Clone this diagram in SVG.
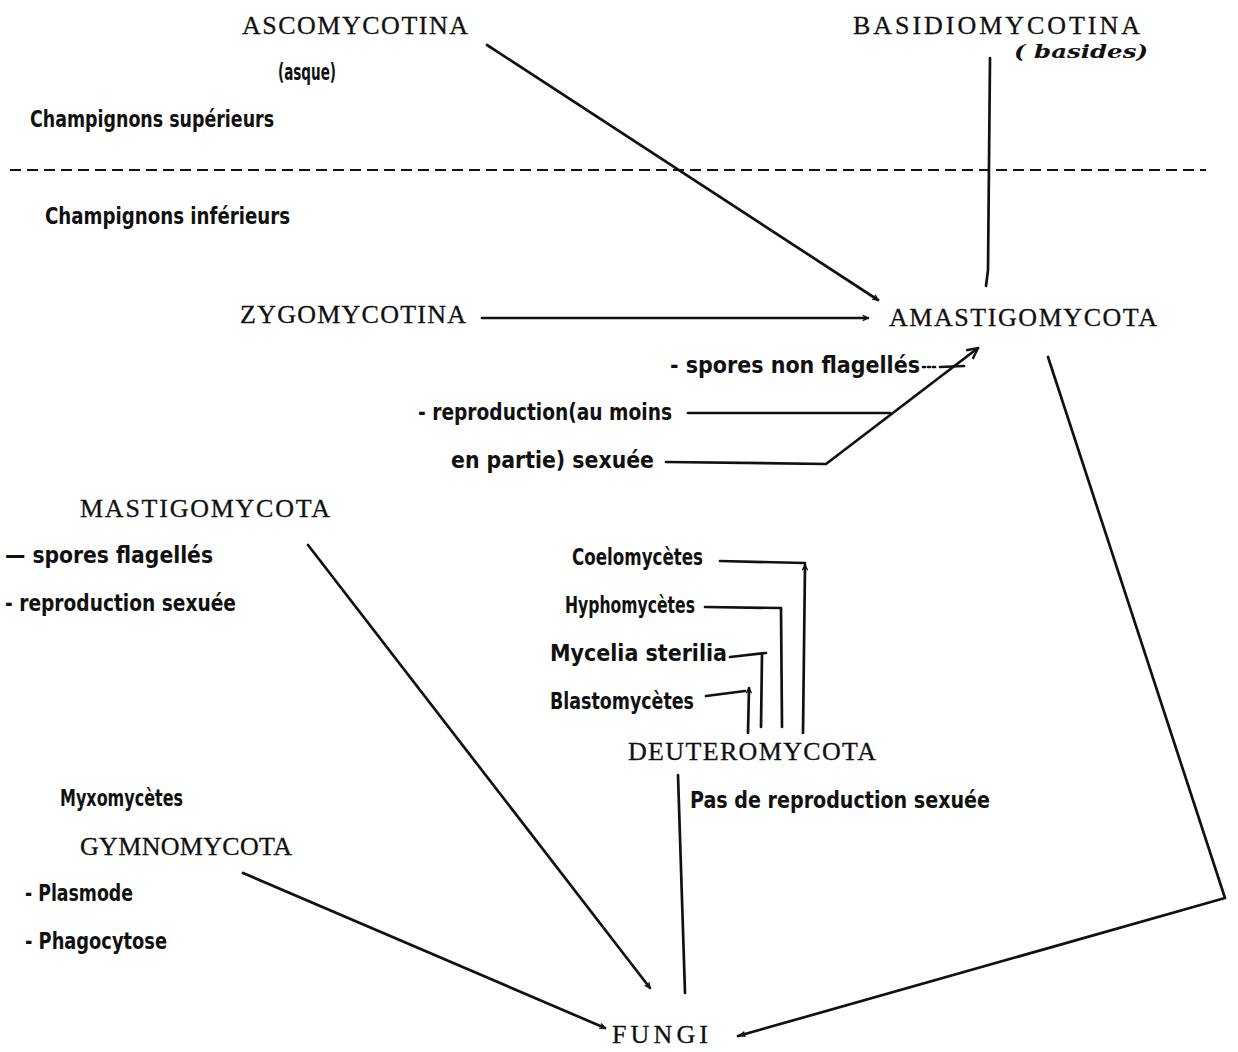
<svg xmlns="http://www.w3.org/2000/svg" width="1238" height="1052" viewBox="0 0 1238 1052">
<defs>
<style>
.cap{font-family:"Liberation Serif","DejaVu Serif",serif;font-size:26px;fill:#111;stroke:#111;stroke-width:0.3}
.nar{font-family:"Liberation Sans Narrow","DejaVu Sans Condensed","DejaVu Sans",sans-serif;font-size:23px;fill:#111;font-weight:bold}
.hand{font-family:"DejaVu Serif","Liberation Serif",serif;font-style:italic;font-weight:bold;font-size:19px;fill:#111}
.ln{stroke:#111;stroke-width:2.7;fill:none;stroke-linecap:round;stroke-linejoin:round}
.dash{stroke:#111;stroke-width:2;stroke-dasharray:11 6;fill:none}
</style>
<marker id="open" viewBox="0 0 12 12" refX="11" refY="6" markerWidth="13" markerHeight="13" markerUnits="userSpaceOnUse" orient="auto">
<path d="M1,1 L11,6 L1,11" fill="none" stroke="#111" stroke-width="2.2"/>
</marker>
<marker id="tip" viewBox="0 0 10 10" refX="9" refY="5" markerWidth="12" markerHeight="8" markerUnits="userSpaceOnUse" orient="auto">
<path d="M0,1 L10,5 L0,9 Z" fill="#111"/>
</marker>
<marker id="small" viewBox="0 0 8 8" refX="7" refY="4" markerWidth="7" markerHeight="7" markerUnits="userSpaceOnUse" orient="auto">
<path d="M1,1 L7,4 L1,7" fill="none" stroke="#111" stroke-width="1.6"/>
</marker>
</defs>
<rect width="1238" height="1052" fill="#fff"/>

<line class="dash" x1="10" y1="170" x2="1206" y2="170"/>
<text class="nar" x="30" y="127" textLength="244" lengthAdjust="spacingAndGlyphs">Champignons supérieurs</text>
<text class="nar" x="45" y="224" textLength="245" lengthAdjust="spacingAndGlyphs">Champignons inférieurs</text>

<g id="connectors">
<line class="ln" x1="487" y1="45" x2="878" y2="300" marker-end="url(#small)"/>
<polyline class="ln" points="990,58 988,270 986,286"/>
<line class="ln" x1="482" y1="318" x2="868" y2="318" marker-end="url(#small)"/>
<line class="ln" x1="923" y1="367" x2="938" y2="367" stroke-dasharray="2 3"/>
<line class="ln" x1="940" y1="367" x2="964" y2="366"/>
<line class="ln" x1="688" y1="413" x2="890" y2="413"/>
<polyline class="ln" points="666,462 826,464 978,348" marker-end="url(#open)"/>
<polyline class="ln" points="1048,357 1225,898 738,1036" marker-end="url(#tip)"/>
<line class="ln" x1="308" y1="545" x2="650" y2="988" marker-end="url(#small)"/>
<line class="ln" x1="678" y1="775" x2="685" y2="993"/>
<line class="ln" x1="243" y1="873" x2="605" y2="1028" marker-end="url(#small)"/>
<polyline class="ln" points="720,561 805,563"/>
<line class="ln" x1="803" y1="733" x2="805" y2="565" marker-end="url(#small)"/>
<polyline class="ln" points="705,607 781,608 782,727"/>
<polyline class="ln" points="730,657 766,653"/>
<line class="ln" x1="761" y1="727" x2="762" y2="654"/>
<line class="ln" x1="706" y1="696" x2="745" y2="691"/>
<line class="ln" x1="748" y1="733" x2="749" y2="688" marker-end="url(#small)"/>
</g>

<g id="ascomycotina">
<text class="cap" x="242" y="34" textLength="226" lengthAdjust="spacing">ASCOMYCOTINA</text>
<text class="nar" x="278" y="80" textLength="58" lengthAdjust="spacingAndGlyphs">(asque)</text>
</g>
<g id="basidiomycotina">
<text class="cap" x="853" y="34" textLength="287" lengthAdjust="spacing">BASIDIOMYCOTINA</text>
<text class="hand" x="1014" y="58" textLength="134" lengthAdjust="spacingAndGlyphs">( basides)</text>
</g>
<g id="zygomycotina">
<text class="cap" x="240" y="323" textLength="226" lengthAdjust="spacing">ZYGOMYCOTINA</text>
</g>
<g id="amastigomycota">
<text class="cap" x="889" y="326" textLength="268" lengthAdjust="spacing">AMASTIGOMYCOTA</text>
<text class="nar" x="670" y="373" textLength="250" lengthAdjust="spacingAndGlyphs">- spores non flagellés</text>
<text class="nar" x="418" y="420" textLength="254" lengthAdjust="spacingAndGlyphs">- reproduction(au moins</text>
<text class="nar" x="451" y="468" textLength="203" lengthAdjust="spacingAndGlyphs">en partie) sexuée</text>
</g>
<g id="mastigomycota">
<text class="cap" x="80" y="517" textLength="250" lengthAdjust="spacing">MASTIGOMYCOTA</text>
<text class="nar" x="5" y="563" textLength="208" lengthAdjust="spacingAndGlyphs">— spores flagellés</text>
<text class="nar" x="5" y="611" textLength="231" lengthAdjust="spacingAndGlyphs">- reproduction sexuée</text>
</g>
<g id="deuteromycota">
<text class="nar" x="572" y="565" textLength="131" lengthAdjust="spacingAndGlyphs">Coelomycètes</text>
<text class="nar" x="565" y="613" textLength="130" lengthAdjust="spacingAndGlyphs">Hyphomycètes</text>
<text class="nar" x="550" y="661" textLength="177" lengthAdjust="spacingAndGlyphs">Mycelia sterilia</text>
<text class="nar" x="550" y="709" textLength="144" lengthAdjust="spacingAndGlyphs">Blastomycètes</text>
<text class="cap" x="628" y="760" textLength="248" lengthAdjust="spacing">DEUTEROMYCOTA</text>
<text class="nar" x="690" y="808" textLength="300" lengthAdjust="spacingAndGlyphs">Pas de reproduction sexuée</text>
</g>
<g id="gymnomycota">
<text class="nar" x="60" y="806" textLength="123" lengthAdjust="spacingAndGlyphs">Myxomycètes</text>
<text class="cap" x="80" y="855" textLength="212" lengthAdjust="spacing">GYMNOMYCOTA</text>
<text class="nar" x="25" y="901" textLength="108" lengthAdjust="spacingAndGlyphs">- Plasmode</text>
<text class="nar" x="25" y="949" textLength="142" lengthAdjust="spacingAndGlyphs">- Phagocytose</text>
</g>
<g id="fungi">
<text class="cap" x="612" y="1043" textLength="96" lengthAdjust="spacing">FUNGI</text>
</g>
</svg>
